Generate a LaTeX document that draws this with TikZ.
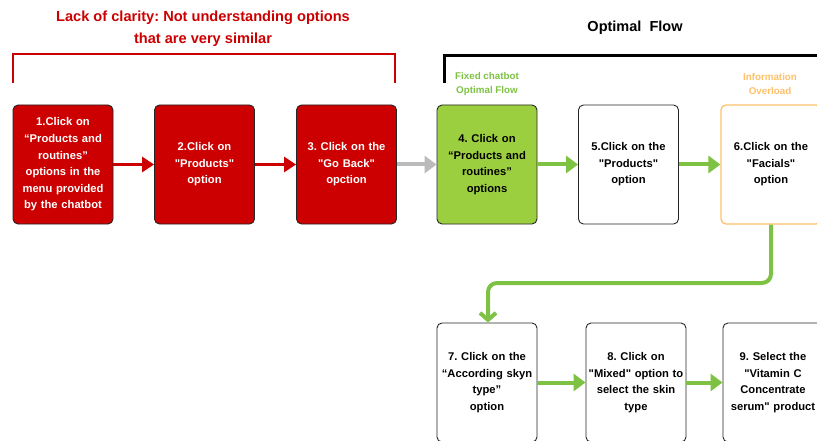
\documentclass[tikz,border=0pt]{standalone}
\usepackage{fontspec}
\setmainfont{Liberation Sans}
\usetikzlibrary{arrows.meta}
\definecolor{lackred}{HTML}{CC0000}
\definecolor{okgreen}{HTML}{9CCF3F}
\definecolor{flowgreen}{HTML}{7EC244}
\definecolor{infoorange}{HTML}{FFC06A}
\definecolor{backgray}{HTML}{BBBBBB}
\newcommand\sq{\textquotedbl}
\frenchspacing
\begin{document}
\begin{tikzpicture}[x=1pt,y=-1pt,line join=round,font=\bfseries\fontsize{11.2}{16.6}\selectfont,
 stepbox/.style={draw=black!85,line width=0.9pt,rounded corners=5pt,minimum width=100pt,minimum height=119pt,text width=98pt,align=center,inner sep=0pt},
 redbox/.style={stepbox,fill=lackred,text=white},
 redarrow/.style={draw=lackred,line width=3pt,-{Triangle[length=12pt,width=15pt]}},
 greenarrow/.style={draw=flowgreen,line width=4pt,-{Triangle[length=12pt,width=17pt]}},
 tag/.style={font=\bfseries\fontsize{9.8}{14}\selectfont,align=center}]
 \useasboundingbox (0,0) rectangle (817,441);
 \clip (0,0) rectangle (817,441);
 % upper row
 \node[redbox] (s1) at (63,164.5) {1.Click on\\“Products and\\routines”\\options in the\\menu provided\\by the chatbot};
 \node[redbox] (s2) at (204.5,164.5) {2.Click on\\\sq Products\sq\\option};
 \node[redbox] (s3) at (346.5,164.5) {3. Click on the\\\sq Go Back\sq\\opction};
 \node[stepbox,fill=okgreen] (s4) at (487,164.5) {4. Click on\\“Products and\\routines”\\options};
 \node[stepbox] (s5) at (628.5,164.5) {5.Click on the\\\sq Products\sq\\option};
 \node[stepbox,draw=infoorange,line width=1.3pt] (s6) at (771,164.5) {6.Click on the\\\sq Facials\sq\\option};
 % lower row
 \node[stepbox] (s7) at (487,382.5) {7. Click on the\\“According skyn\\type”\\option};
 \node[stepbox] (s8) at (636,382.5) {8. Click on\\\sq Mixed\sq{} option to\\select the skin\\type};
 \node[stepbox] (s9) at (773,382.5) {9. Select the\\\sq Vitamin C\\Concentrate\\serum\sq{} product};
 % arrows
 \draw[redarrow] (s1) -- (s2);
 \draw[redarrow] (s2) -- (s3);
 \draw[draw=backgray,line width=4pt,-{Triangle[length=12pt,width=17pt]}] (s3) -- (s4);
 \draw[greenarrow] (s4) -- (s5);
 \draw[greenarrow] (s5) -- (s6);
 \draw[greenarrow] (s7) -- (s8);
 \draw[greenarrow] (s8) -- (s9);
 \draw[draw=flowgreen,line width=4pt,rounded corners=9pt,-{Straight Barb[length=7pt,width=16pt]}] (s6.south) -- (771,283) -- (488,283) -- (s7.north-|488,0);
 % brackets and titles
 \node[text=lackred,font=\bfseries\fontsize{14.6}{22}\selectfont,align=center] (lack) at (203,29) {Lack of clarity: Not understanding options\\that are very similar};
 \draw[lackred,line width=2pt,line join=miter] (13,83) -- (13,54) -- (395,54) -- (395,83);
 \node[font=\bfseries\fontsize{14.5}{16}\selectfont] (opt) at (635,28) {Optimal\ \ Flow};
 \draw[black,line width=3pt,line join=miter] (444,83) -- (444,56) -- (830,56);
 \node[tag,text=flowgreen] (fixed) at (487,84) {Fixed chatbot\\Optimal Flow};
 \node[tag,text=infoorange] (info) at (770,84) {Information\\Overload};
\end{tikzpicture}
\end{document}
